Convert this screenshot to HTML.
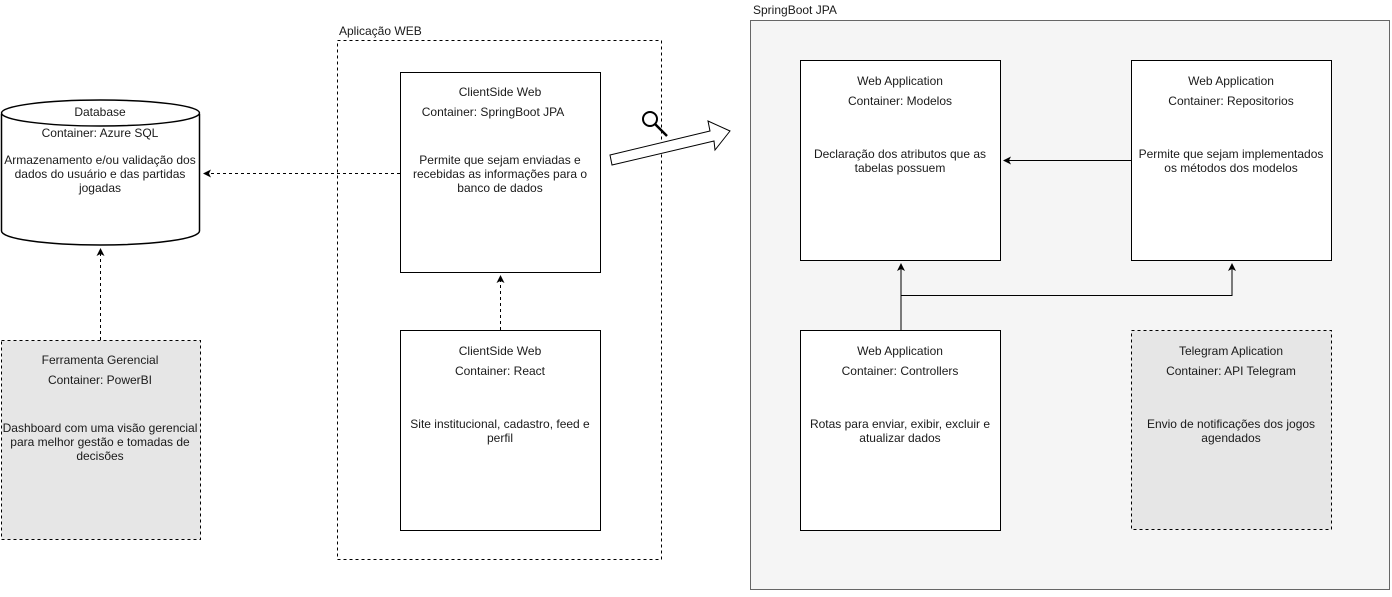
<!DOCTYPE html>
<html><head><meta charset="utf-8"><style>
html,body{margin:0;padding:0;background:#fff;}
svg text{font-family:"Liberation Sans",Arial,sans-serif;font-size:12px;fill:#1a1a1a;}
</style></head><body>
<svg width="1392" height="592" viewBox="0 0 1392 592" xmlns="http://www.w3.org/2000/svg">
<defs>
<marker id="ah" markerWidth="10" markerHeight="10" refX="7" refY="5" orient="auto" markerUnits="userSpaceOnUse">
<path d="M0,1 L8,5 L0,9 L2,5 Z" fill="#000"/>
</marker>
</defs>
<rect x="750.5" y="20.5" width="639" height="569" fill="#f5f5f5" stroke="#666"/>
<text x="753" y="14">SpringBoot JPA</text>
<rect x="337.5" y="40.5" width="324" height="519" fill="none" stroke="#000" stroke-dasharray="3,3"/>
<text x="339" y="35">Aplicação WEB</text>

<path d="M1.5,114 L1.5,231 A99,14 0 0 0 199.5,231 L199.5,114" fill="#fff" stroke="#000" stroke-width="1.5"/>
<ellipse cx="100.5" cy="113" rx="99" ry="13" fill="#fff" stroke="#000" stroke-width="1.5"/>
<g text-anchor="middle">
<text x="100" y="116">Database</text>
<text x="100" y="137">Container: Azure SQL</text>
<text x="100" y="164">Armazenamento e/ou validação dos</text>
<text x="100" y="178">dados do usuário e das partidas</text>
<text x="100" y="192">jogadas</text>
</g>

<rect x="1.5" y="340.5" width="199" height="199" fill="#e6e6e6" stroke="#000" stroke-dasharray="3,3"/>
<g text-anchor="middle">
<text x="100" y="364">Ferramenta Gerencial</text>
<text x="100" y="384">Container: PowerBI</text>
<text x="100" y="432">Dashboard com uma visão gerencial</text>
<text x="100" y="446">para melhor gestão e tomadas de</text>
<text x="100" y="460">decisões</text>
</g>
<line x1="100.5" y1="340" x2="100.5" y2="249" stroke="#000" stroke-dasharray="3,3" marker-end="url(#ah)"/>

<rect x="400.5" y="72.5" width="200" height="200" fill="#fff" stroke="#000"/>
<g text-anchor="middle">
<text x="500" y="96">ClientSide Web</text>
<text x="493" y="116">Container: SpringBoot JPA</text>
<text x="500" y="164">Permite que sejam enviadas e</text>
<text x="500" y="178">recebidas as informações para o</text>
<text x="500" y="192">banco de dados</text>
</g>
<line x1="400" y1="173.5" x2="204" y2="173.5" stroke="#000" stroke-dasharray="3,3" marker-end="url(#ah)"/>

<rect x="400.5" y="330.5" width="200" height="200" fill="#fff" stroke="#000"/>
<g text-anchor="middle">
<text x="500" y="355">ClientSide Web</text>
<text x="500" y="375">Container: React</text>
<text x="500" y="428">Site institucional, cadastro, feed e</text>
<text x="500" y="442">perfil</text>
</g>
<line x1="500.5" y1="330" x2="500.5" y2="276" stroke="#000" stroke-dasharray="3,3" marker-end="url(#ah)"/>

<polygon points="610,155 710,131 708,121 730,131 715,150 714,141 612,165" fill="#fff" stroke="#000"/>
<circle cx="650" cy="119" r="7" fill="none" stroke="#000" stroke-width="2"/>
<line x1="655" y1="124" x2="667" y2="136" stroke="#000" stroke-width="2.5"/>

<rect x="800.5" y="60.5" width="200" height="200" fill="#fff" stroke="#000"/>
<g text-anchor="middle">
<text x="900" y="85">Web Application</text>
<text x="900" y="105">Container: Modelos</text>
<text x="900" y="158">Declaração dos atributos que as</text>
<text x="900" y="172">tabelas possuem</text>
</g>
<rect x="1131.5" y="60.5" width="200" height="200" fill="#fff" stroke="#000"/>
<g text-anchor="middle">
<text x="1231" y="85">Web Application</text>
<text x="1231" y="105">Container: Repositorios</text>
<text x="1231" y="158">Permite que sejam implementados</text>
<text x="1231" y="172">os métodos dos modelos</text>
</g>
<line x1="1131" y1="160.5" x2="1004" y2="160.5" stroke="#000" marker-end="url(#ah)"/>
<rect x="800.5" y="330.5" width="200" height="200" fill="#fff" stroke="#000"/>
<g text-anchor="middle">
<text x="900" y="355">Web Application</text>
<text x="900" y="375">Container: Controllers</text>
<text x="900" y="428">Rotas para enviar, exibir, excluir e</text>
<text x="900" y="442">atualizar dados</text>
</g>
<line x1="901" y1="330" x2="901" y2="264" stroke="#000" marker-end="url(#ah)"/>
<polyline points="901,295.5 1232,295.5 1232,264" fill="none" stroke="#000" marker-end="url(#ah)"/>
<rect x="1131.5" y="330.5" width="200" height="199" fill="#e6e6e6" stroke="#000" stroke-dasharray="3,3"/>
<g text-anchor="middle">
<text x="1231" y="355">Telegram Aplication</text>
<text x="1231" y="375">Container: API Telegram</text>
<text x="1231" y="428">Envio de notificações dos jogos</text>
<text x="1231" y="442">agendados</text>
</g>
</svg>
</body></html>
